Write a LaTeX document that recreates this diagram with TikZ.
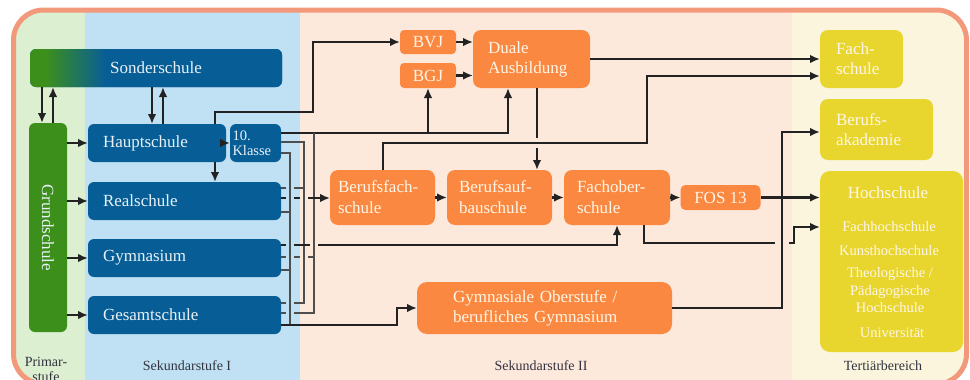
\documentclass[tikz,border=0pt]{standalone}
\usepackage{fontspec}
\setmainfont{Liberation Serif}
\usetikzlibrary{arrows.meta}
\definecolor{sekblue}{HTML}{075E96}
\definecolor{gschool}{HTML}{3D8F1B}
\definecolor{orng}{HTML}{FB8840}
\definecolor{yel}{HTML}{E8D62E}
\definecolor{bgg}{HTML}{DCEFD0}
\definecolor{bgb}{HTML}{C0E1F3}
\definecolor{bgp}{HTML}{FDE8DC}
\definecolor{bgc}{HTML}{FAF5DC}
\definecolor{framec}{HTML}{F3997B}
\definecolor{linec}{HTML}{222222}
\definecolor{btxt}{HTML}{E9F1F6}
\definecolor{otxt}{HTML}{FFF6E8}
\definecolor{labc}{HTML}{33333F}
\pgfdeclarehorizontalshading{sondershade}{100bp}{color(0bp)=(gschool); color(28bp)=(gschool); color(40bp)=(sekblue); color(100bp)=(sekblue)}
\begin{document}
\begin{tikzpicture}[x=1pt,y=-1pt,
  box/.style={rounded corners=6pt, inner sep=0pt, outer sep=0pt, font=\fontsize{17}{20}\selectfont},
  bbox/.style={box, fill=sekblue, text=btxt},
  obox/.style={box, fill=orng, text=otxt},
  ybox/.style={box, fill=yel, text=otxt},
  htxt/.style={anchor=base, inner sep=0pt, text=otxt, font=\fontsize{14.5}{15}\selectfont},
  lab/.style={anchor=base, inner sep=0pt, text=labc, font=\fontsize{14}{15}\selectfont},
  arr/.style={-{Latex[length=10pt,width=8.5pt]}},
  conn/.style={draw=linec, line width=2.2pt},
  cl/.style={draw=linec!80!white, line width=1.6pt}]
\useasboundingbox (0,0) rectangle (970,380);
% backgrounds
\begin{scope}
\clip[rounded corners=30pt] (13.5,10) rectangle (966.5,384);
\fill[bgg] (0,0) rectangle (85,400);
\fill[bgb] (85,0) rectangle (300,400);
\fill[bgp] (300,0) rectangle (792,400);
\fill[bgc] (792,0) rectangle (970,400);
\end{scope}
\draw[framec, line width=5pt, rounded corners=30pt] (13.5,10) rectangle (966.5,384);

% Sekundarstufe I
\node[bbox, shade, shading=sondershade, minimum width=252pt, minimum height=38pt] (sonder) at (156,68) {Sonderschule};
\node[box, fill=gschool, text=btxt, minimum width=38pt, minimum height=209pt] (grund) at (48,227.5) {\rotatebox{-90}{Grundschule}};
\node[bbox, minimum height=38pt, text width=108pt, inner xsep=15pt, align=left] (haupt) at (157,143) {Hauptschule};
\node[bbox, minimum height=38pt, text width=46pt, inner xsep=2.5pt, align=left, font=\fontsize{14.5}{15}\selectfont] (zehn) at (255.5,143) {10.\\Klasse};
\node[bbox, minimum height=38pt, text width=163pt, inner xsep=15pt, align=left] (real) at (184.5,201) {Realschule};
\node[bbox, minimum height=38pt, text width=163pt, inner xsep=15pt, align=left] (gymn) at (184.5,258) {Gymnasium};
\node[bbox, minimum height=38pt, text width=163pt, inner xsep=15pt, align=left] (gesamt) at (184.5,315) {Gesamtschule};

% Sekundarstufe II
\node[obox, rounded corners=4pt, minimum width=56pt, minimum height=24pt] (bvj) at (428,42) {BVJ};
\node[obox, rounded corners=4pt, minimum width=56pt, minimum height=25pt] (bgj) at (428,75.5) {BGJ};
\node[obox, rounded corners=8pt, minimum height=58pt, text width=87pt, inner xsep=15pt, align=left] (duale) at (531.5,59) {Duale\\Ausbildung};
\node[obox, rounded corners=8pt, minimum height=55pt, text width=89pt, inner xsep=8pt, align=left, font=\fontsize{17}{21}\selectfont] (bfs) at (382.5,197.5) {Berufsfach-\\schule};
\node[obox, rounded corners=8pt, minimum height=55pt, text width=81pt, inner xsep=12pt, align=left, font=\fontsize{17}{21}\selectfont] (bas) at (499.5,197.5) {Berufsauf-\\bauschule};
\node[obox, rounded corners=8pt, minimum height=55pt, text width=80pt, inner xsep=13pt, align=left, font=\fontsize{17}{21}\selectfont] (fos) at (617,197.5) {Fachober-\\schule};
\node[obox, rounded corners=5pt, minimum width=80pt, minimum height=25pt] (fos13) at (720.5,197.5) {FOS 13};
\node[obox, rounded corners=10pt, minimum height=52pt, text width=183pt, inner xsep=36pt, align=left] (gymob) at (544.5,308) {Gymnasiale Oberstufe /\\berufliches Gymnasium};

% Tertiaerbereich
\node[ybox, rounded corners=8pt, minimum height=58pt, text width=51pt, inner xsep=16pt, align=left] (fach) at (861.5,59) {Fach-\\schule};
\node[ybox, rounded corners=8pt, minimum height=61pt, text width=81pt, inner xsep=16pt, align=left] (beraka) at (876.5,129.5) {Berufs-\\akademie};
\node[ybox, rounded corners=10pt, minimum width=143pt, minimum height=181pt] (hoch) at (891.5,261.5) {};
\node[htxt, font=\fontsize{17}{18}\selectfont] (h0) at (888,198) {Hochschule};
\node[htxt] (h1) at (889,231) {Fachhochschule};
\node[htxt] (h2) at (889,255) {Kunsthochschule};
\node[htxt] (h3) at (890,277) {Theologische /};
\node[htxt] (h4) at (890,295) {Pädagogische};
\node[htxt] (h5) at (890,312) {Hochschule};
\node[htxt] (h6) at (892,337) {Universität};

% stage labels
\node[lab] (l1a) at (46,366) {Primar-};
\node[lab] (l1b) at (46,381) {stufe};
\node[lab] (l2) at (187,370) {Sekundarstufe I};
\node[lab] (l3) at (541,370) {Sekundarstufe II};
\node[lab] (l4) at (883,370) {Tertiärbereich};

% Grundschule connections
\draw[conn, arr] (grund.east |- haupt.west) -- (haupt.west);
\draw[conn, arr] (grund.east |- real.west) -- (real.west);
\draw[conn, arr] (grund.east |- gymn.west) -- (gymn.west);
\draw[conn, arr] (grund.east |- gesamt.west) -- (gesamt.west);
\draw[conn, arr] (sonder.south -| 42,0) -- (grund.north -| 42,0);
\draw[conn, arr] (grund.north -| 53,0) -- (sonder.south -| 53,0);
\draw[conn, arr] (sonder.south -| 152,0) -- (haupt.north -| 152,0);
\draw[conn, arr] (haupt.north -| 163,0) -- (sonder.south -| 163,0);
\draw[conn, arr] (haupt.east) -- (zehn.west);
\draw[conn, arr] (haupt.south -| 215,0) -- (real.north -| 215,0);
\draw[conn, arr] (haupt.north -| 215,0) -- (215,112) -- (313,112) |- (bvj.west);

% cluster of Sek I lines
\draw[conn, arr] (zehn.east |- 0,133) -| (duale.south -| 508,0);
\draw[conn, arr] (bgj.south |- 0,133) -- (bgj.south);
\draw[cl] (gesamt.east |- 0,313) -- (286,313) (294,313) -- (314,313) -- (314,133);
\draw[cl] (zehn.east |- 0,142) -- (304,142) -- (304,303) -- (294,303) (286,303) -- (gesamt.east |- 0,303);
\draw[cl] (zehn.east |- 0,153) -- (290,153) -- (290,325);
\draw[conn, arr] (gesamt.east |- 0,325) -- (397,325) |- (gymob.west);
\draw[cl] (real.east |- 0,188) -- (286,188) (294,188) -- (304,188);
\draw[conn, arr] (real.east |- 0,198) -- (286,198) (294,198) -- (300,198) (308,198) -- (bfs.west |- 0,198);
\draw[cl] (real.east |- 0,212) -- (290,212);
\draw[conn, arr] (gymn.east |- 0,245) -- (286,245) (294,245) -- (310,245) (318,245) -- (617,245) -- (fos.south -| 617,0);
\draw[cl] (gymn.east |- 0,257) -- (286,257) (294,257) -- (300,257) (308,257) -- (314,257);
\draw[cl] (gymn.east |- 0,270) -- (290,270);

% Sek II connections
\draw[conn, arr] (bvj.east) -- (duale.west |- bvj.east);
\draw[conn, arr] (bgj.east) -- (duale.west |- bgj.east);
\draw[conn, arr] (duale.east) -- (fach.west |- duale.east);
\draw[conn, arr] (bfs.north -| 383,0) -- (383,143) -- (647,143) |- (fach.west |- 0,76);
\draw[conn, arr] (duale.south -| 537,0) -- (537,138) (537,148) -- (bas.north -| 537,0);
\draw[conn, arr] (bfs.east) -- (bas.west);
\draw[conn, arr] (bas.east) -- (fos.west);
\draw[conn, arr] (fos.east) -- (fos13.west);
\draw[conn, arr] (fos13.east) -- (hoch.west |- fos13.east);
\draw[conn, arr] (fos.south -| 644,0) -- (644,243) -- (775,243) (789,243) -- (794,243) -- (794,227) -- (hoch.west |- 0,227);
\draw[conn, arr] (gymob.east) -| (782,132) -- (beraka.west |- 0,132);
\end{tikzpicture}
\end{document}
